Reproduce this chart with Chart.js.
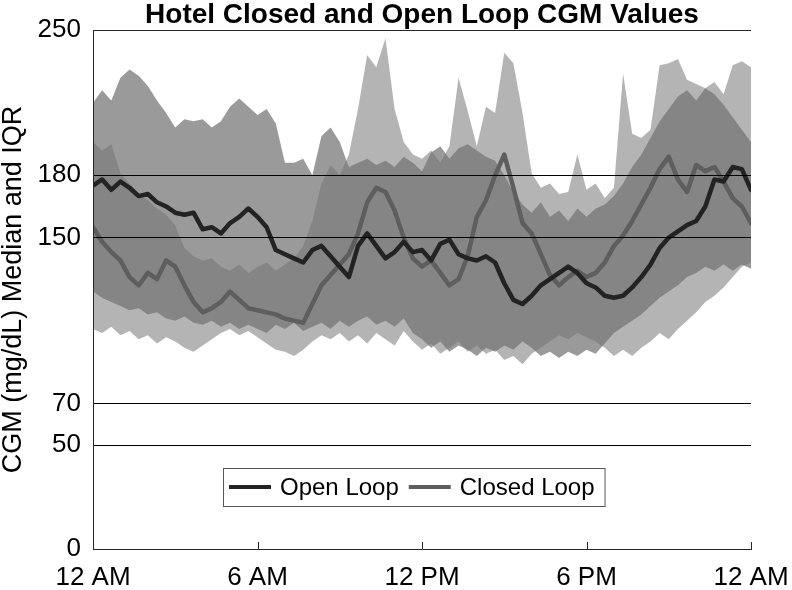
<!DOCTYPE html>
<html lang="en">
<head>
<meta charset="UTF-8">
<title>Hotel Closed and Open Loop CGM Values</title>
<script src="https://cdn.jsdelivr.net/npm/chart.js"></script>
<style>
    html, body { margin: 0; padding: 0; background: #ffffff; }
    #wrap { width: 792px; height: 590px; }
</style>
</head>
<body>
<div id="wrap"><canvas id="cgmChart" width="792" height="590"></canvas></div>
<script>
// Samples every 20 minutes, midnight to midnight (73 points)
const sampleStepMinutes = 20;

const openMedian = [175,178,173,177,174,170,171,167,165,162, 161,162,154,155,152,157,160,164,160,155,
                    144,142,140,138,144,146,141,136,131,146, 152,146,140,143,148,143,144,139,147,149,
                    142,140,139,141,138,128,120,118,122,127, 130,133,136,133,128,126,122,121,122,126,
                    131,137,145,150,153,156,158,165,178,177, 184,183,173];
const closedMedian = [155,148,143,139,131,127,133,130,139,136, 127,119,114,116,119,124,120,116,115,114,
                      113,111,110,109,118,127,132,137,142,152, 167,174,172,163,150,140,136,139,133,127,
                      130,141,160,168,180,190,174,157,152,142, 132,127,131,134,131,133,138,146,151,158,
                      166,174,183,189,178,172,185,182,184,177, 169,165,157];

// Interquartile ranges
const openUpper = [215,221,216,227,231,228,223,216,210,203, 207,206,207,203,206,213,217,213,209,212,
                   205,186,186,188,180,199,203,196,184,186, 188,185,187,184,189,186,182,191,194,188,
                   193,195,192,189,187,180,172,166,162,167, 160,163,158,164,160,164,166,170,176,184,
                   190,198,206,212,218,221,216,222,219,214, 208,202,196];
const openLower = [124,121,119,117,115,116,113,114,111,110, 112,109,108,110,107,109,106,108,106,104,
                   108,106,109,105,107,109,106,110,107,110, 112,108,110,107,111,104,101,97,100,95,
                   98,96,93,97,95,98,96,100,97,93, 95,92,95,93,96,94,99,104,107,110,
                   113,117,121,124,127,131,133,136,134,137, 134,137,135];
const closedUpper = [196,192,195,181,176,171,168,164,161,156, 145,141,139,140,136,134,137,133,136,138,
                     134,137,140,146,158,176,185,180,190,212, 238,232,246,212,196,190,188,192,186,194,
                     227,211,194,213,210,239,234,210,181,174, 176,171,172,190,173,176,169,174,229,200,
                     198,202,233,234,236,226,224,222,225,219, 233,235,232];
const closedLower = [106,104,107,103,105,101,103,99,102,100, 97,95,98,101,104,106,103,105,102,99,
                     96,95,93,96,100,103,101,104,100,103, 99,104,101,98,105,100,96,99,94,97,
                     100,95,98,94,96,91,93,89,94,97, 100,103,101,104,102,100,97,93,96,93,
                     97,100,104,101,106,110,114,119,122,126, 131,136,138];

const xTickMinutes = [0, 360, 720, 1080, 1440];
const xTickLabels = ['12 AM', '6 AM', '12 PM', '6 PM', '12 AM'];
const yTickValues = [0, 50, 70, 150, 180, 250];
const yGridValues = [50, 70, 150, 180];

const FONT = '"Liberation Sans", Arial, Helvetica, sans-serif';

const toPoints = values => values.map((v, i) => ({ x: i * sampleStepMinutes, y: v }));

// Chart title centred over the plot area
const titlePlugin = {
    id: 'plotTitle',
    afterDraw(chart) {
        const { ctx, chartArea } = chart;
        ctx.save();
        ctx.font = 'bold 28px ' + FONT;
        ctx.fillStyle = '#000';
        ctx.textAlign = 'center';
        ctx.textBaseline = 'alphabetic';
        ctx.fillText('Hotel Closed and Open Loop CGM Values', (chartArea.left + chartArea.right) / 2, chartArea.top - 7);
        ctx.restore();
    }
};

// Left axis line and small tick marks pointing into the plot on the time axis
const axisMarksPlugin = {
    id: 'axisMarks',
    afterDraw(chart) {
        const { ctx, chartArea, scales } = chart;
        ctx.save();
        ctx.strokeStyle = '#262626';
        ctx.lineWidth = 1;
        const lx = Math.round(chartArea.left) + 0.5;
        ctx.beginPath();
        ctx.moveTo(lx, chartArea.top);
        ctx.lineTo(lx, chartArea.bottom);
        ctx.stroke();
        scales.x.ticks.forEach(t => {
            const px = Math.round(scales.x.getPixelForValue(t.value)) + 0.5;
            ctx.beginPath();
            ctx.moveTo(px, chartArea.bottom);
            ctx.lineTo(px, chartArea.bottom - 7);
            ctx.stroke();
        });
        ctx.restore();
    }
};

// Legend box sitting inside the plot, below the 50 line
const legendBoxPlugin = {
    id: 'legendBox',
    afterDraw(chart) {
        const { ctx, chartArea } = chart;
        const items = chart.data.datasets.filter(d => d.inLegend);
        const left = chartArea.left + 130;
        const top = chartArea.top + 438;
        const height = 38;
        const sampleLen = 42;
        ctx.save();
        ctx.font = '24px ' + FONT;
        let x = left + 6;
        const layout = items.map(d => {
            const item = { d, x0: x, tx: x + sampleLen + 9 };
            x = item.tx + ctx.measureText(d.label).width + 10;
            return item;
        });
        const width = x - left;
        ctx.fillStyle = '#fff';
        ctx.fillRect(left, top, width, height);
        ctx.strokeStyle = '#555';
        ctx.lineWidth = 1;
        ctx.strokeRect(left + 0.5, top + 0.5, width, height);
        const midY = top + height / 2;
        layout.forEach(item => {
            ctx.strokeStyle = item.d.borderColor;
            ctx.lineWidth = 4;
            ctx.beginPath();
            ctx.moveTo(item.x0, midY);
            ctx.lineTo(item.x0 + sampleLen, midY);
            ctx.stroke();
            ctx.fillStyle = '#000';
            ctx.textBaseline = 'middle';
            ctx.fillText(item.d.label, item.tx, midY + 1);
        });
        ctx.restore();
    }
};

const bandStyle = color => ({
    borderWidth: 0,
    borderColor: 'rgba(0,0,0,0)',
    backgroundColor: color,
    pointRadius: 0
});

const config = {
    type: 'line',
    data: {
        datasets: [
            {
                label: 'Open Loop', inLegend: true, data: toPoints(openMedian),
                borderColor: '#232323', borderWidth: 4.5, pointRadius: 0, fill: false,
                borderJoinStyle: 'round', borderCapStyle: 'round', order: 0
            },
            {
                label: 'Closed Loop', inLegend: true, data: toPoints(closedMedian),
                borderColor: '#5e5e5e', borderWidth: 4.5, pointRadius: 0, fill: false,
                borderJoinStyle: 'round', borderCapStyle: 'round', order: 0
            },
            Object.assign({ label: 'Open Loop IQR', data: toPoints(openUpper), fill: '+1', order: 2 }, bandStyle('rgba(0,0,0,0.396)')),
            Object.assign({ label: 'Open Loop Q1', data: toPoints(openLower), fill: false, order: 2 }, bandStyle('rgba(0,0,0,0)')),
            Object.assign({ label: 'Closed Loop IQR', data: toPoints(closedUpper), fill: '+1', order: 1 }, bandStyle('rgba(115,115,115,0.535)')),
            Object.assign({ label: 'Closed Loop Q1', data: toPoints(closedLower), fill: false, order: 1 }, bandStyle('rgba(0,0,0,0)'))
        ]
    },
    options: {
        responsive: false,
        animation: false,
        layout: { padding: { top: 30, right: 41, left: 0, bottom: 0 } },
        elements: { line: { tension: 0 }, point: { radius: 0 } },
        plugins: {
            legend: { display: false },
            tooltip: { enabled: false },
            title: { display: false }
        },
        scales: {
            x: {
                type: 'linear',
                min: 0,
                max: 1440,
                afterBuildTicks: scale => { scale.ticks = xTickMinutes.map(v => ({ value: v })); },
                afterFit: scale => {
                    scale.height = 41;
                    scale.paddingLeft = 0;
                    scale.paddingRight = 0;
                },
                ticks: {
                    callback: (value, index) => xTickLabels[index],
                    font: { family: FONT, size: 26 },
                    color: '#000',
                    padding: 13,
                    maxRotation: 0,
                    autoSkip: false
                },
                grid: { drawOnChartArea: false, drawTicks: false },
                border: { color: '#262626', width: 1 }
            },
            y: {
                min: 0,
                max: 250,
                afterBuildTicks: scale => { scale.ticks = yTickValues.map(v => ({ value: v })); },
                afterFit: scale => { scale.width = 93; },
                ticks: {
                    font: { family: FONT, size: 26 },
                    color: '#000',
                    padding: 12
                },
                grid: {
                    z: 1,
                    drawTicks: false,
                    lineWidth: 1,
                    color: ctx => {
                        const v = ctx.tick ? ctx.tick.value : null;
                        if (yGridValues.includes(v)) return '#000';
                        if (v === 250) return '#262626';
                        return 'rgba(0,0,0,0)';
                    }
                },
                border: { display: false },
                title: {
                    display: true,
                    text: 'CGM (mg/dL) Median and IQR',
                    font: { family: FONT, size: 27, lineHeight: 1 },
                    color: '#000',
                    padding: 0
                }
            }
        }
    },
    plugins: [titlePlugin, axisMarksPlugin, legendBoxPlugin]
};

const cgmChart = new Chart(document.getElementById('cgmChart'), config);
</script>
</body>
</html>
